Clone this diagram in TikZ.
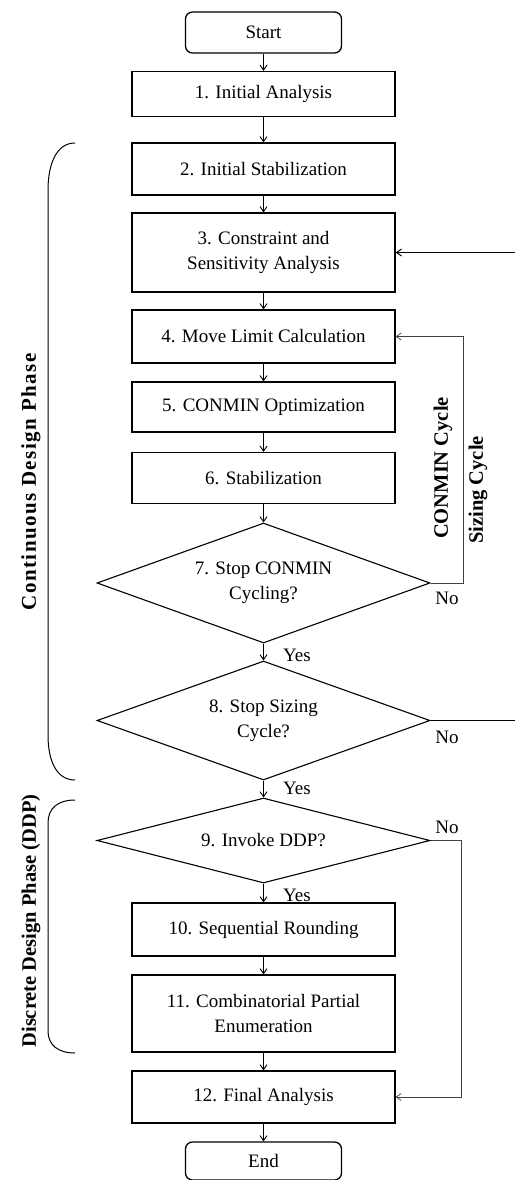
\documentclass[tikz,border=0pt]{standalone}
\usepackage{fontspec}
\setmainfont{Liberation Serif}
\newfontfamily\spacedserif[LetterSpace=7]{Liberation Serif}
\usetikzlibrary{arrows.meta,shapes.geometric}
\begin{document}
\begin{tikzpicture}[x=1pt,y=-1pt,
  font=\fontsize{19}{25}\selectfont,
  procbox/.style={draw,line width=1.3pt,minimum width=263pt,inner sep=0pt,align=center},
  termbox/.style={draw,line width=1.3pt,rounded corners=7pt,minimum width=156pt,inner sep=0pt},
  decis/.style={draw,line width=1.1pt,diamond,minimum width=333pt,inner sep=0pt},
  txt/.style={align=center,inner sep=0pt},
  flow/.style={line width=0.9pt,-{Straight Barb[length=5pt,width=7pt]}},
  loopline/.style={line width=0.7pt,draw=black!75},
  lbl/.style={inner sep=0pt},
  phase/.style={font=\fontsize{20.5}{24}\selectfont\bfseries,rotate=90,inner sep=0pt},
  brace/.style={line width=1pt}]
\useasboundingbox (0,0) rectangle (514,1180);

\node[termbox,minimum height=41pt] (start) at (263.5,32.5) {Start};
\node[procbox,minimum height=45pt] (b1) at (263.5,94) {1. Initial Analysis};
\node[procbox,minimum height=52pt] (b2) at (263.5,169) {2. Initial Stabilization};
\node[procbox,minimum height=79pt] (b3) at (263.5,252.5) {3. Constraint and\\Sensitivity Analysis};
\node[procbox,minimum height=53pt] (b4) at (263.5,336.5) {4. Move Limit Calculation};
\node[procbox,minimum height=50pt] (b5) at (263.5,407) {5. CONMIN Optimization};
\node[procbox,minimum height=51pt] (b6) at (263.5,478) {6. Stabilization};
\node[decis,minimum height=120pt] (d7) at (263.5,583) {};
\node[txt] (t7) at (263.5,583) {7. Stop CONMIN\\Cycling?};
\node[decis,minimum height=119pt] (d8) at (263.5,720.5) {};
\node[txt] (t8) at (263.5,720.5) {8. Stop Sizing\\Cycle?};
\node[decis,minimum height=85pt] (d9) at (263.5,840.5) {};
\node[txt] (t9) at (263.5,840.5) {9. Invoke DDP?};
\node[procbox,minimum height=53pt] (b10) at (263.5,929.5) {10. Sequential Rounding};
\node[procbox,minimum height=77pt] (b11) at (263.5,1013.5) {11. Combinatorial Partial\\Enumeration};
\node[procbox,minimum height=52pt] (b12) at (263.5,1097) {12. Final Analysis};
\node[termbox,minimum height=38pt] (end) at (263.5,1161) {End};

\draw[flow] (start) -- (b1);
\draw[flow] (b1) -- (b2);
\draw[flow] (b2) -- (b3);
\draw[flow] (b3) -- (b4);
\draw[flow] (b4) -- (b5);
\draw[flow] (b5) -- (b6);
\draw[flow] (b6) -- (d7.north);
\draw[flow] (d7.south) -- (d8.north);
\draw[flow] (d8.south) -- (d9.north);
\draw[flow] (d9.south) -- (b10);
\draw[flow] (b10) -- (b11);
\draw[flow] (b11) -- (b12);
\draw[flow] (b12) -- (end);

\coordinate (c7) at (463,583);
\coordinate (c8) at (516,720.5);
\coordinate (c9) at (461,840.5);
\draw[flow,loopline] (d7.east) -- (c7) |- (b4.east);
\draw[flow,line width=1pt] (d8.east) -- (c8) |- (b3.east);
\draw[flow,loopline] (d9.east) -- (c9) |- (b12.east);

\node[lbl] (y7) at (297,655) {Yes};
\node[lbl] (y8) at (297,788) {Yes};
\node[lbl] (y9) at (297,895) {Yes};
\node[lbl,anchor=north] (n7) at (447,592) {No};
\node[lbl,anchor=north] (n8) at (447,731) {No};
\node[lbl,anchor=south] (n9) at (447,834) {No};

\node[phase] (cc) at (443,468) {CONMIN Cycle};
\node[phase] (sc) at (478,490) {Sizing Cycle};
\node[phase,font=\fontsize{21}{24}\spacedserif\bfseries] (cdp) at (31,482) {Continuous Design Phase};
\node[phase] (ddp) at (31,921) {Discrete Design Phase (DDP)};

\draw[brace] (75,143) .. controls (56,143) and (48,165) .. (48,190)
  -- (48,735) .. controls (48,760) and (56,780) .. (75,780);
\draw[brace] (75,800) .. controls (58,800) and (48,808) .. (48,823)
  -- (48,1031) .. controls (48,1045) and (58,1053) .. (75,1053);
\end{tikzpicture}
\end{document}
